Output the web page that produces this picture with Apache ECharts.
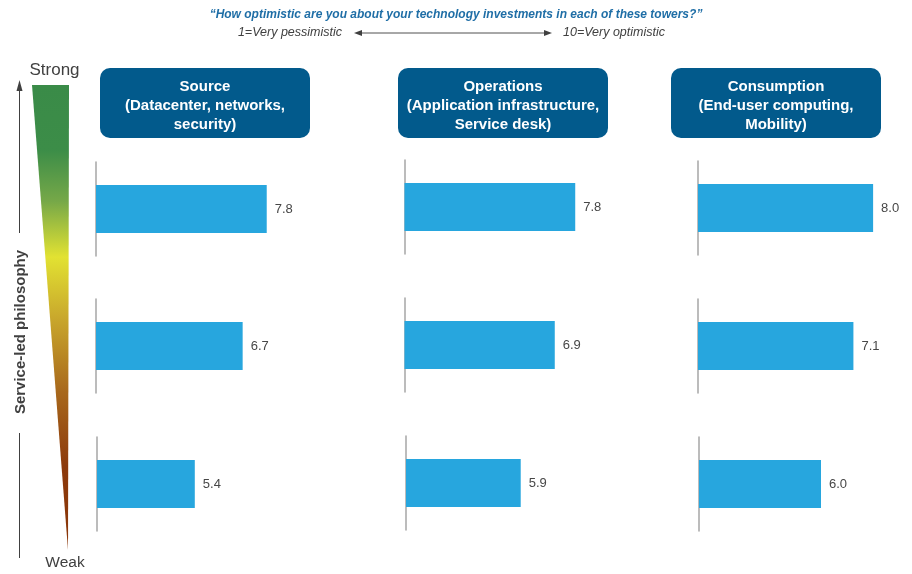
<!DOCTYPE html>
<html><head><meta charset="utf-8">
<script src="https://cdn.jsdelivr.net/npm/echarts@6/dist/echarts.min.js"></script>
<style>html,body{margin:0;padding:0;background:#fff}#c{width:912px;height:574px}</style>
</head><body><div id="c"></div>
<script>
// ---- data ----
const towers = ['Source', 'Operations', 'Consumption'];
const towerDetails = ['(Datacenter, networks,\nsecurity)', '(Application infrastructure,\nService desk)', '(End-user computing,\nMobility)'];
const rowsLabels = ['Strong', 'Middle', 'Weak'];
const sourceValues = [7.8, 6.7, 5.4];
const operationsValues = [7.8, 6.9, 5.9];
const consumptionValues = [8.0, 7.1, 6.0];
const question = '“How optimistic are you about your technology investments in each of these towers?”';
const scaleLow = '1=Very pessimistic';
const scaleHigh = '10=Very optimistic';
const axisTitle = 'Service-led philosophy';

const seriesValues = [sourceValues, operationsValues, consumptionValues];

// ---- layout ----
const panelLeft = [96, 404.5, 698];
const rowLeftShift = [[0, 0, 1], [0, 0, 1.5], [0, 0, 1]];
const rowTop = [[162, 299, 437], [160, 298, 436], [161, 299, 437]];
const rowWidth = [[197, 197, 163], [197, 196, 175], [197, 197, 183]];
const headerX = [100, 398, 671];

const font = 'Arial, "Liberation Sans", sans-serif';
const grids = [], xAxes = [], yAxes = [], series = [];
let k = 0;
for (let p = 0; p < 3; p++) {
  for (let r = 0; r < 3; r++) {
    grids.push({left: panelLeft[p] + rowLeftShift[p][r], top: rowTop[p][r], width: rowWidth[p][r], height: 94});
    xAxes.push({type: 'value', gridIndex: k, min: 0, max: 9, show: false});
    yAxes.push({type: 'category', gridIndex: k, data: [rowsLabels[r]],
      axisLine: {show: true, lineStyle: {color: '#a6a6a6', width: 1.5}},
      axisTick: {show: false}, axisLabel: {show: false}, splitLine: {show: false}});
    series.push({type: 'bar', xAxisIndex: k, yAxisIndex: k, data: [seriesValues[p][r]],
      barWidth: 48, itemStyle: {color: '#27a6de'}, silent: true,
      label: {show: true, position: 'right', distance: 8, color: '#474747', fontSize: 13, fontFamily: font,
        formatter: d => d.value.toFixed(1)}});
    k++;
  }
}

const graphic = [];
// question and scale
graphic.push({type: 'text', x: 456, y: 15, style: {text: question, fill: '#1f6ea6', font: 'italic bold 12px ' + font, textAlign: 'center', textVerticalAlign: 'middle'}});
graphic.push({type: 'text', x: 342, y: 33, style: {text: scaleLow, fill: '#404040', font: 'italic 12.5px ' + font, textAlign: 'right', textVerticalAlign: 'middle'}});
graphic.push({type: 'text', x: 563, y: 33, style: {text: scaleHigh, fill: '#404040', font: 'italic 12.5px ' + font, textAlign: 'left', textVerticalAlign: 'middle'}});
graphic.push({type: 'line', shape: {x1: 360, y1: 33, x2: 546, y2: 33}, style: {stroke: '#505050', lineWidth: 1}});
graphic.push({type: 'polygon', shape: {points: [[354, 33], [362, 30], [362, 36]]}, style: {fill: '#404040'}});
graphic.push({type: 'polygon', shape: {points: [[552, 33], [544, 30], [544, 36]]}, style: {fill: '#404040'}});

// headers
for (let p = 0; p < 3; p++) {
  graphic.push({type: 'rect', shape: {x: headerX[p], y: 68, width: 210, height: 70, r: 10}, style: {fill: '#025a8c'}});
  graphic.push({type: 'text', x: headerX[p] + 105, y: 105.5, style: {text: towers[p] + '\n' + towerDetails[p],
    fill: '#ffffff', font: 'bold 15px ' + font, textAlign: 'center', textVerticalAlign: 'middle', lineHeight: 19}});
}

// left gradient wedge
graphic.push({type: 'polygon', shape: {points: [[32, 85], [69, 85], [68, 550]]},
  style: {fill: {type: 'linear', x: 0, y: 0, x2: 0, y2: 1, colorStops: [
    {offset: 0, color: '#3a8b48'}, {offset: 0.14, color: '#3c8d48'}, {offset: 0.25, color: '#76a848'},
    {offset: 0.37, color: '#e2e232'}, {offset: 0.5, color: '#c9a82c'}, {offset: 0.66, color: '#a8681c'},
    {offset: 0.82, color: '#8c3a0c'}, {offset: 1, color: '#8a3608'}]}}});
graphic.push({type: 'text', x: 54.5, y: 70, style: {text: rowsLabels[0], fill: '#404040', font: '17px ' + font, textAlign: 'center', textVerticalAlign: 'middle'}});
graphic.push({type: 'text', x: 65, y: 563, style: {text: rowsLabels[2], fill: '#404040', font: '15.5px ' + font, textAlign: 'center', textVerticalAlign: 'middle'}});
// vertical arrow
graphic.push({type: 'line', shape: {x1: 19.5, y1: 233, x2: 19.5, y2: 90}, style: {stroke: '#404040', lineWidth: 1}});
graphic.push({type: 'polygon', shape: {points: [[19.5, 80], [16.5, 91], [22.5, 91]]}, style: {fill: '#404040'}});
graphic.push({type: 'line', shape: {x1: 19.5, y1: 433, x2: 19.5, y2: 558}, style: {stroke: '#404040', lineWidth: 1}});
graphic.push({type: 'text', x: 21, y: 332, rotation: Math.PI / 2,
  style: {text: axisTitle, fill: '#404040', font: 'bold 15px ' + font, textAlign: 'center', textVerticalAlign: 'middle'}});

const chart = echarts.init(document.getElementById('c'), null, {renderer: 'canvas'});
chart.setOption({animation: false, grid: grids, xAxis: xAxes, yAxis: yAxes, series: series, graphic: graphic});
</script></body></html>
